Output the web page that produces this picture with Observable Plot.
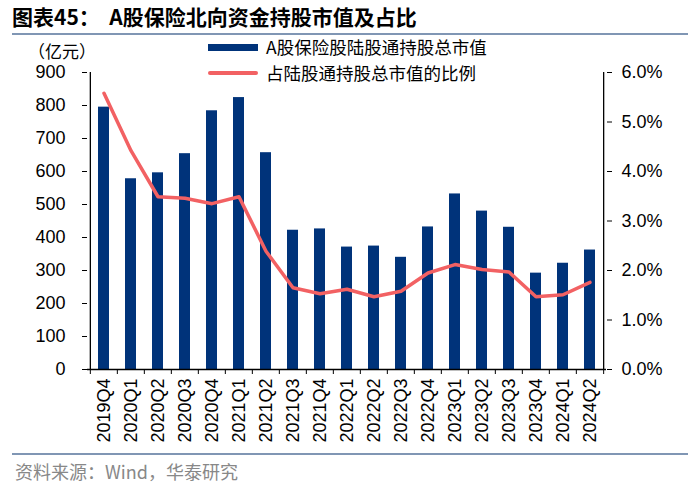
<!DOCTYPE html>
<html>
<head>
<meta charset="utf-8">
<script src="https://cdn.jsdelivr.net/npm/d3@7"></script>
<script src="https://cdn.jsdelivr.net/npm/@observablehq/plot@0.6"></script>
<style>
  body { margin: 0; background: #fff; }
  #wrap { position: relative; width: 700px; height: 488px; overflow: hidden; font-family: "Noto Sans CJK SC", "Liberation Sans", sans-serif; }
  #chart { position: absolute; left: 0; top: 0; }
  .abs { position: absolute; white-space: nowrap; line-height: 1; }
  #title { left: 12px; top: 6px; font-size: 21px; font-weight: bold; color: #000; }
  .rule { position: absolute; left: 12px; width: 676px; height: 0; border-top: 2px solid #8096b4; }
  #unit { left: 28px; top: 42px; font-size: 17px; color: #000; }
  .leg { left: 208px; font-size: 17.5px; height: 18px; color: #000; display: flex; align-items: center; }
  .sw { display: inline-block; width: 50px; margin-right: 8px; }
  #source { left: 15px; top: 462px; font-size: 18px; color: #888; }
</style>
</head>
<body>
<div id="wrap">
  <div id="chart"></div>
  <div class="abs" id="title">图表45：&nbsp;&nbsp;A股保险北向资金持股市值及占比</div>
  <div class="rule" style="top:33px"></div>
  <div class="abs" id="unit">（亿元）</div>
  <div class="abs leg" style="top:38px"><span class="sw" style="height:7px;background:#00337A"></span>A股保险股陆股通持股总市值</div>
  <div class="abs leg" style="top:63.5px"><span class="sw" style="height:4px;background:#F26163;border-radius:2px"></span>占陆股通持股总市值的比例</div>
  <div class="rule" style="top:453px"></div>
  <div class="abs" id="source">资料来源：Wind，华泰研究</div>
</div>
<script>
const quarters = ["2019Q4","2020Q1","2020Q2","2020Q3","2020Q4","2021Q1","2021Q2","2021Q3","2021Q4","2022Q1","2022Q2","2022Q3","2022Q4","2023Q1","2023Q2","2023Q3","2023Q4","2024Q1","2024Q2"];
const marketValue = [795, 578, 596, 654, 784, 824, 657, 422, 426, 371, 374, 340, 432, 532, 480, 431, 292, 322, 362];
const sharePct = [5.58, 4.42, 3.49, 3.46, 3.35, 3.49, 2.39, 1.65, 1.53, 1.62, 1.47, 1.58, 1.95, 2.12, 2.02, 1.97, 1.47, 1.51, 1.76];
const leftTicks = [0, 100, 200, 300, 400, 500, 600, 700, 800, 900];
const rightTicks = [0, 1, 2, 3, 4, 5, 6];

const k = 900 / 6; // right axis (%) mapped onto left axis domain
const rows = quarters.map((q, i) => ({q, v: marketValue[i], p: sharePct[i] * k}));

const W = 700, H = 488, mL = 87, mR = 94, mT = 72, mB = 119;
const step = (W - mL - mR) / quarters.length;
const tickLen = -5 * 900 / (H - mT - mB);

const chart = Plot.plot({
  width: W, height: H,
  marginLeft: mL, marginRight: mR, marginTop: mT, marginBottom: mB,
  style: {fontFamily: "'Liberation Sans', Arial, sans-serif", fontSize: "18px", color: "#000", background: "transparent"},
  x: {domain: quarters, paddingInner: 0.6, paddingOuter: 0.3},
  y: {domain: [0, 900]},
  marks: [
    Plot.barY(rows, {x: "q", y: "v", fill: "#00337A"}),
    Plot.line(rows, {x: "q", y: "p", stroke: "#F26163", strokeWidth: 3.5, strokeLinejoin: "round"}),
    Plot.ruleY([0], {stroke: "#000", strokeWidth: 1.3}),
    Plot.ruleX([quarters[0]], {dx: -step / 2, y1: 0, y2: 900, stroke: "#000", strokeWidth: 1.3}),
    Plot.ruleX([quarters[quarters.length - 1]], {dx: step / 2, y1: 0, y2: 900, stroke: "#000", strokeWidth: 1.3}),
    Plot.ruleX(quarters, {dx: -step / 2, y1: 0, y2: tickLen, stroke: "#000"}),
    Plot.ruleX([quarters[quarters.length - 1]], {dx: step / 2, y1: 0, y2: tickLen, stroke: "#000"}),
    Plot.axisX({tickSize: 0, tickRotate: -90, tickPadding: 9, fontSize: 18, label: null}),
    Plot.axisY(leftTicks, {anchor: "left", tickSize: 5, tickPadding: 17, fontSize: 18, label: null}),
    Plot.axisY(rightTicks.map(t => t * k), {anchor: "right", tickSize: 5, tickPadding: 10, fontSize: 18, label: null, tickFormat: d => (d / k).toFixed(1) + "%"})
  ]
});
document.getElementById("chart").appendChild(chart);
</script>
</body>
</html>
